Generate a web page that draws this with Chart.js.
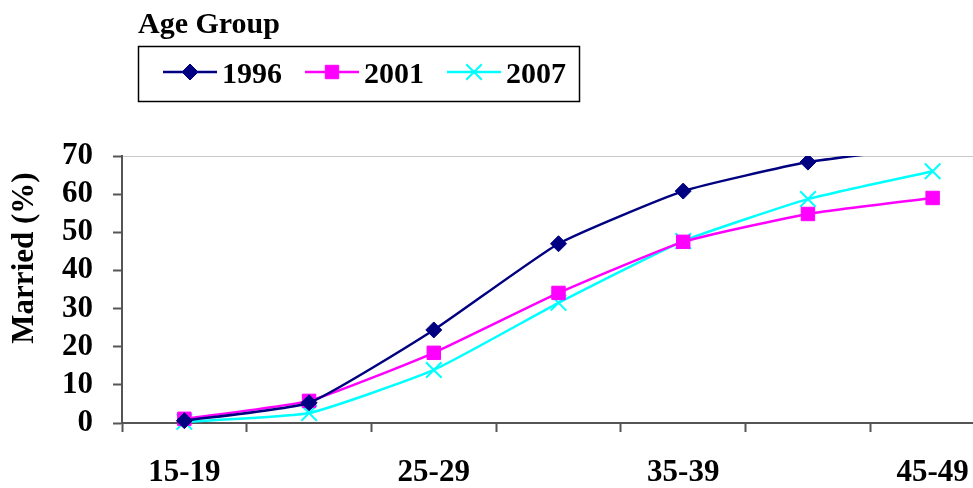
<!DOCTYPE html>
<html lang="en">

<head>
    <meta charset="UTF-8">
    <title>Married by Age Group</title>
    <style>
        html, body { margin: 0; padding: 0; background: #fff; overflow: hidden; }
        #wrap { width: 973px; height: 488px; overflow: hidden; }
    </style>
</head>

<body>
    <div id="wrap">
        <canvas id="myChart" width="1008" height="488"></canvas>
    </div>

    <script src="https://cdn.jsdelivr.net/npm/chart.js@4.4.1/dist/chart.umd.min.js"></script>
    <script>
        // age groups (x axis) - only every other one gets a label
        const ageGroups = ['15-19', '20-24', '25-29', '30-34', '35-39', '40-44', '45-49'];
        const seriesNames = ['1996', '2001', '2007'];
        const married1996 = [0.6, 5.3, 24.4, 47.0, 60.8, 68.4, 72.5];
        const married2001 = [1.1, 5.8, 18.4, 34.1, 47.5, 54.8, 59.0];
        const married2007 = [0.3, 2.6, 13.9, 31.5, 47.7, 58.7, 66.0];
        const yTicks = [0, 10, 20, 30, 40, 50, 60, 70];
        const legendTitle = 'Age Group';
        const yTitle = 'Married (%)';

        const serif = '"Liberation Serif", "Times New Roman", serif';

        // legend box + y title, drawn by hand so they sit where the original has them
        const ageLegend = {
            id: 'ageLegend',
            afterDraw(chart) {
                const ctx = chart.ctx;
                ctx.save();
                ctx.fillStyle = '#000';
                ctx.font = 'bold 30px ' + serif;
                ctx.textBaseline = 'alphabetic';
                ctx.textAlign = 'left';
                ctx.fillText(legendTitle, 138, 33);

                ctx.strokeStyle = '#000';
                ctx.lineWidth = 1.5;
                ctx.strokeRect(138.5, 46.5, 441, 55);

                let x = 163;
                const y = 72;
                chart.data.datasets.forEach(ds => {
                    ctx.strokeStyle = ds.borderColor;
                    ctx.lineWidth = 2.5;
                    ctx.beginPath();
                    ctx.moveTo(x, y);
                    ctx.lineTo(x + 54, y);
                    ctx.stroke();

                    ctx.fillStyle = ds.pointBackgroundColor;
                    ctx.strokeStyle = ds.pointBorderColor;
                    ctx.lineWidth = ds.pointBorderWidth;
                    Chart.helpers.drawPoint(ctx, {
                        pointStyle: ds.pointStyle,
                        radius: ds.pointRadius,
                        borderWidth: ds.pointBorderWidth,
                        rotation: 0
                    }, x + 27, y);

                    ctx.fillStyle = '#000';
                    ctx.fillText(ds.label, x + 59, 83);
                    x += 59 + ctx.measureText(ds.label).width + 23;
                });

                // y axis title
                ctx.translate(25, 258);
                ctx.rotate(-Math.PI / 2);
                ctx.textAlign = 'center';
                ctx.textBaseline = 'middle';
                ctx.font = 'bold 31px ' + serif;
                ctx.fillText(yTitle, 0, 0);
                ctx.restore();
            }
        };

        const ctx = document.getElementById('myChart').getContext('2d');
        const myChart = new Chart(ctx, {
            type: 'line',
            data: {
                labels: ageGroups,
                datasets: [
                    {
                        label: seriesNames[0],
                        data: married1996,
                        borderColor: '#000080',
                        borderWidth: 2.5,
                        pointStyle: 'rectRot',
                        pointRadius: 8,
                        pointBackgroundColor: '#000080',
                        pointBorderColor: '#000080',
                        pointBorderWidth: 1,
                        tension: 0.15,
                        clip: { left: false, top: 0, right: false, bottom: false }
                    },
                    {
                        label: seriesNames[1],
                        data: married2001,
                        borderColor: '#ff00ff',
                        borderWidth: 2.5,
                        pointStyle: 'rect',
                        pointRadius: 9.5,
                        pointBackgroundColor: '#ff00ff',
                        pointBorderColor: '#ff00ff',
                        pointBorderWidth: 1,
                        tension: 0.15,
                        clip: false
                    },
                    {
                        label: seriesNames[2],
                        data: married2007,
                        borderColor: '#00ffff',
                        borderWidth: 2.5,
                        pointStyle: 'crossRot',
                        pointRadius: 11,
                        pointBackgroundColor: '#00ffff',
                        pointBorderColor: '#00ffff',
                        pointBorderWidth: 2,
                        tension: 0.15,
                        clip: false
                    }
                ]
            },
            options: {
                responsive: false,
                animation: false,
                layout: { padding: { top: 156, left: 0, right: 0, bottom: 0 } },
                elements: { line: { capBezierPoints: false } },
                plugins: {
                    legend: { display: false },
                    tooltip: { enabled: false }
                },
                scales: {
                    x: {
                        offset: true,
                        grid: {
                            offset: true,
                            drawOnChartArea: false,
                            tickLength: 9,
                            tickColor: '#555',
                            tickWidth: 2
                        },
                        border: { color: '#555', width: 2 },
                        ticks: {
                            autoSkip: false,
                            maxRotation: 0,
                            padding: 22,
                            color: '#000',
                            font: { family: serif, size: 31, weight: 'bold' },
                            callback: (val, i) => (i % 2 === 0 ? ageGroups[i] : '')
                        },
                        afterFit: s => { s.height = 65; }
                    },
                    y: {
                        min: yTicks[0],
                        max: yTicks[yTicks.length - 1],
                        afterBuildTicks: s => { s.ticks = yTicks.map(v => ({ value: v })); },
                        grid: {
                            color: c => (c.tick && c.tick.value === 70 ? '#c8c8c8' : 'rgba(0,0,0,0)'),
                            lineWidth: 1,
                            tickLength: 9,
                            tickColor: '#555',
                            tickWidth: 2
                        },
                        border: { color: '#555', width: 2 },
                        ticks: {
                            autoSkip: false,
                            padding: 20,
                            color: '#000',
                            font: { family: serif, size: 31, weight: 'bold' }
                        },
                        afterFit: s => { s.width = 122; }
                    }
                }
            },
            plugins: [ageLegend]
        });
    </script>

</body>

</html>
